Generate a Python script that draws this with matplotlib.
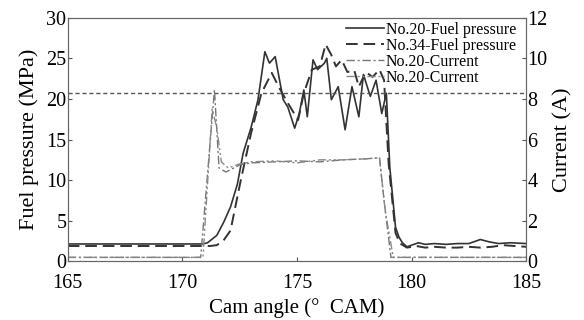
import matplotlib
matplotlib.use("Agg")
import matplotlib.pyplot as plt

plt.rcParams["font.family"] = ["Liberation Serif", "DejaVu Serif"]

# No.20 fuel pressure (MPa)
p20_x = [165, 170.9, 171.1, 171.5, 171.8, 172.1, 172.4, 172.65, 173.0, 173.3, 173.6, 173.8,
         174.05, 174.4, 174.6, 174.9, 175.1, 175.3, 175.45, 175.7, 175.9, 176.2, 176.3,
         176.5, 176.8, 177.1, 177.4, 177.7, 177.9, 178.2, 178.45, 178.7, 178.9, 179.05,
         179.3, 179.45, 179.6, 179.8, 180.0, 180.3, 180.6, 181.0, 181.5, 182.0, 182.5,
         183.0, 183.4, 183.8, 184.3, 185]
p20_y = [2.15, 2.15, 2.3, 3.2, 4.8, 6.7, 9.5, 13.3, 16.5, 19.9, 25.8, 24.4,
         25.2, 19.9, 19.0, 16.4, 18.2, 21.1, 17.8, 24.8, 23.6, 24.4, 25.0,
         19.9, 21.5, 16.2, 21.5, 17.8, 23.0, 20.3, 22.3, 18.2, 20.7, 11.6,
         4.2, 3.0, 2.3, 1.8, 2.0, 2.3, 2.1, 2.2, 2.1, 2.2, 2.2,
         2.7, 2.4, 2.2, 2.3, 2.2]

# No.34 fuel pressure (MPa)
p34_x = [165, 171.2, 171.5, 171.8, 172.1, 172.55, 173.0, 173.45, 173.9, 174.2, 174.6,
         175.05, 175.3, 175.65, 176.0, 176.25, 176.5, 176.7, 176.95, 177.2, 177.5,
         177.7, 178.0, 178.3, 178.6, 178.8, 179.0, 179.3, 179.5, 179.8, 180.2, 180.6,
         181.0, 181.5, 182.0, 182.5, 183.0, 183.5, 184.0, 184.5, 185]
p34_y = [1.9, 1.9, 2.0, 2.6, 3.8, 10.0, 15.8, 20.7, 23.2, 21.5, 19.5,
         17.4, 20.7, 23.6, 24.0, 26.7, 25.4, 24.0, 24.8, 23.3, 23.5,
         21.5, 23.3, 22.7, 23.6, 22.3, 12.0, 3.5, 2.2, 1.7, 1.9, 1.7,
         1.8, 1.7, 1.7, 1.8, 1.7, 1.8, 2.0, 1.9, 1.8]

# No.20 current (A), first trace
i1_x = [165, 170.8, 171.4, 171.6, 171.9, 172.5, 173.0, 174.0, 175.0, 176.0, 177.0,
        178.0, 178.6, 178.8, 179.1, 185]
i1_y = [0.2, 0.2, 8.45, 4.6, 4.4, 4.75, 4.85, 4.9, 4.95, 4.9, 5.0,
        5.05, 5.1, 3.0, 0.2, 0.2]

# No.20 current (A), second trace
i2_x = [165, 170.9, 171.3, 171.5, 171.7, 172.0, 172.5, 173.0, 174.0, 175.0, 176.0,
        177.0, 178.0, 178.6, 178.85, 179.2, 185]
i2_y = [0.2, 0.2, 7.5, 6.6, 4.9, 4.6, 4.8, 4.9, 4.95, 4.85, 5.0,
        5.0, 5.05, 5.1, 2.5, 0.2, 0.2]

ref_level = 20.7

fig = plt.figure(figsize=(5.84, 3.2), dpi=100)
ax = fig.add_axes([0.116, 0.183, 0.785, 0.762])
ax2 = ax.twinx()

l1, = ax.plot(p20_x, p20_y, color="#333333", lw=1.2, ls="-")
l2, = ax.plot(p34_x, p34_y, color="#333333", lw=1.4, ls=(0, (6, 3)))
ax.axhline(ref_level, color="#555555", lw=1.0, ls=(0, (3, 2)))
l3, = ax2.plot(i1_x, i1_y, color="#777777", lw=1.0, ls=(0, (6, 2, 1.5, 2)))
l4, = ax2.plot(i2_x, i2_y, color="#888888", lw=1.0, ls=(0, (6, 2, 1.5, 2, 1.5, 2)))

ax.set_xlim(165, 185)
ax.set_ylim(0, 30)
ax2.set_ylim(0, 12)
ax.set_xticks([165, 170, 175, 180, 185])
ax.set_yticks([0, 5, 10, 15, 20, 25, 30])
ax2.set_yticks([0, 2, 4, 6, 8, 10, 12])

ax.set_xlabel("Cam angle (°  CAM)", fontsize=15, labelpad=4)
ax.set_ylabel("Fuel pressure (MPa)", fontsize=16, labelpad=5)
ax2.set_ylabel("Current (A)", fontsize=16, labelpad=4)

for a in (ax, ax2):
    a.tick_params(direction="in", labelsize=14.5, length=3, color="#555555", pad=1)
    for s in a.spines.values():
        s.set_color("#666666")
ax.tick_params(axis="x", pad=9)

ax.legend([l1, l2, l3, l4],
          ["No.20-Fuel pressure", "No.34-Fuel pressure", "No.20-Current", "No.20-Current"],
          loc="upper right", bbox_to_anchor=(1.0, 1.025), frameon=False, fontsize=11.4,
          handlelength=2.4, handletextpad=0.1, labelspacing=0.0, borderaxespad=0.25)

fig.savefig("out.png", dpi=100)
